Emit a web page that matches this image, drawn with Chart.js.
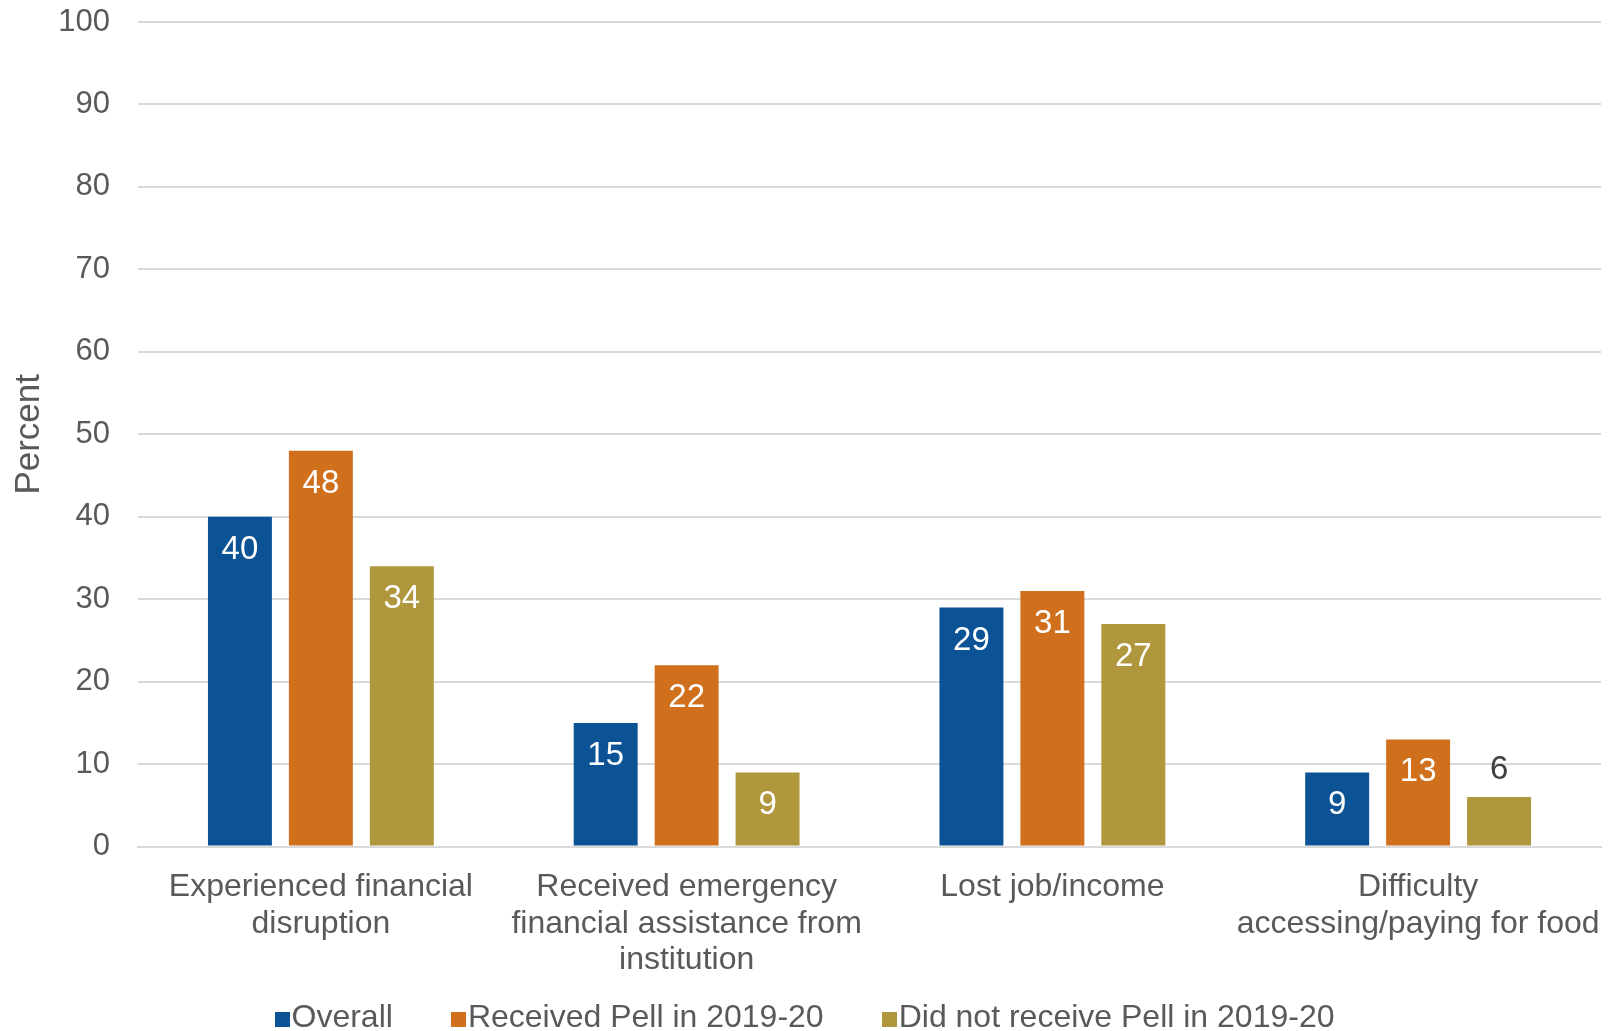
<!DOCTYPE html>
<html>
<head>
<meta charset="utf-8">
<script src="https://cdn.jsdelivr.net/npm/chart.js@4.4.1/dist/chart.umd.min.js"></script>
<style>
  html, body { margin: 0; padding: 0; background: #fff; }
  #wrap { position: relative; width: 1609px; height: 1031px; }
  #legend {
    position: absolute; left: 0; top: 997px; width: 1609px; height: 38px;
    display: flex; justify-content: center; align-items: center;
    font-family: "Liberation Sans", Arial, sans-serif; font-size: 32px; color: #595959;
  }
  #legend .item { display: flex; align-items: center; margin: 0 29px; }
  #legend .box { width: 15px; height: 15px; margin-right: 2px; margin-top: 7px; }
</style>
</head>
<body>
<div id="wrap">
  <canvas id="financeChart" width="1609" height="1031"></canvas>
  <div id="legend"></div>
</div>
<script>
// categories (wrapped as in the original)
const categories = [
    ['Experienced financial', 'disruption'],
    ['Received emergency', 'financial assistance from', 'institution'],
    ['Lost job/income'],
    ['Difficulty', 'accessing/paying for food']
];
const seriesNames = ['Overall', 'Received Pell in 2019-20', 'Did not receive Pell in 2019-20'];
const overall = [40, 15, 29, 9];
const receivedPell = [48, 22, 31, 13];
const noPell = [34, 9, 27, 6];
const yTicks = [0, 10, 20, 30, 40, 50, 60, 70, 80, 90, 100];
const seriesColors = ['#0b5394', '#d06f1c', '#b0963c'];

const FONT = '"Liberation Sans", Arial, sans-serif';
const GREY = '#595959';

// value labels: inside top in white, or above the bar when the bar is too short
const barLabels = {
    id: 'barLabels',
    afterDatasetsDraw(chart) {
        const ctx = chart.ctx;
        ctx.save();
        ctx.font = '33px ' + FONT;
        ctx.textAlign = 'center';
        ctx.textBaseline = 'middle';
        chart.data.datasets.forEach((ds, di) => {
            chart.getDatasetMeta(di).data.forEach((bar, i) => {
                const h = bar.base - bar.y;
                if (h > 60) {
                    ctx.fillStyle = '#ffffff';
                    ctx.fillText(ds.data[i], bar.x, bar.y + 33);
                } else {
                    ctx.fillStyle = '#404040';
                    ctx.fillText(ds.data[i], bar.x, bar.y - 27);
                }
            });
        });
        ctx.restore();
    }
};

const ctx = document.getElementById('financeChart').getContext('2d');
const financeChart = new Chart(ctx, {
    type: 'bar',
    data: {
        labels: categories,
        datasets: [
            { label: seriesNames[0], data: overall, backgroundColor: seriesColors[0] },
            { label: seriesNames[1], data: receivedPell, backgroundColor: seriesColors[1] },
            { label: seriesNames[2], data: noPell, backgroundColor: seriesColors[2] }
        ]
    },
    options: {
        responsive: false,
        animation: false,
        layout: { padding: { left: 8, right: 8, top: 22, bottom: 52 } },
        datasets: {
            bar: { categoryPercentage: 0.664, barPercentage: 0.79 }
        },
        plugins: {
            legend: { display: false },
            tooltip: { enabled: false }
        },
        scales: {
            x: {
                // invisible tick marks give the gap between axis and labels
                grid: { drawOnChartArea: false, drawTicks: true, tickLength: 22, tickColor: 'transparent' },
                border: { color: '#d9d9d9', width: 2 },
                ticks: {
                    color: GREY,
                    font: { family: FONT, size: 32, lineHeight: 1.15 },
                    padding: 0,
                    maxRotation: 0,
                    autoSkip: false
                }
            },
            y: {
                min: 0,
                max: 100,
                afterBuildTicks(scale) {
                    scale.ticks = yTicks.map(v => ({ value: v }));
                },
                afterFit(scale) {
                    scale.width = 130;
                },
                grid: { color: '#d9d9d9', lineWidth: 2, drawTicks: true, tickLength: 28, tickColor: 'transparent' },
                border: { display: false },
                ticks: {
                    color: GREY,
                    font: { family: FONT, size: 31 },
                    padding: 0
                },
                title: {
                    display: true,
                    text: 'Percent',
                    color: GREY,
                    font: { family: FONT, size: 35 },
                    padding: 0
                }
            }
        }
    },
    plugins: [barLabels]
});

// legend drawn beneath the canvas
const legendEl = document.getElementById('legend');
financeChart.data.datasets.forEach(ds => {
    const item = document.createElement('div');
    item.className = 'item';
    const box = document.createElement('span');
    box.className = 'box';
    box.style.background = ds.backgroundColor;
    const label = document.createElement('span');
    label.textContent = ds.label;
    item.appendChild(box);
    item.appendChild(label);
    legendEl.appendChild(item);
});
</script>
</body>
</html>
